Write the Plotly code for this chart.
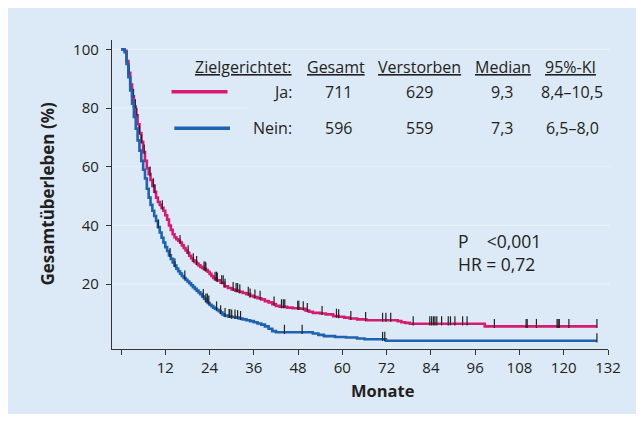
import numpy as np
import plotly.graph_objects as go

# ---------------- data ----------------
ja_months = [0, 1, 1.5, 2, 2.5, 3, 3.5, 4, 4.5, 5, 5.5, 6, 6.5, 7, 7.5, 8, 8.5, 9, 9.5, 10,
             10.5, 11, 11.5, 12, 12.5, 13, 13.5, 14, 14.5, 15, 15.5, 16, 16.5, 17, 17.5, 18,
             18.5, 19, 19.5, 20, 20.5, 21, 21.5, 22, 22.5, 23, 23.5, 24, 24.5, 25, 25.5, 26,
             27, 28, 29, 30, 31, 32, 33, 34, 35, 36, 37, 38, 39, 40, 41, 42, 43, 45, 46.5,
             48.5, 50, 51, 52, 54, 55.5, 57.5, 59, 60.5, 62, 64, 66.5, 75, 76, 77, 78.3,
             98.6, 129]
ja_surv = [100, 99.5, 96, 92, 88, 84, 80.5, 77.5, 74.5, 71.5, 68.5, 65, 62, 59.5, 57.5, 55.5,
           53.5, 51.5, 49.5, 48, 47, 46, 45, 43.5, 42, 40, 38.5, 37, 36, 35.3, 34.8, 34.2,
           33.2, 32.3, 31.5, 30.7, 29.7, 28.8, 28, 27.5, 27, 26.4, 25.9, 25.5, 25.2, 24.8,
           24.2, 23.5, 22.8, 22.1, 21.7, 21.3, 20.5, 19.3, 18.7, 18.2, 17.8, 17.4, 17,
           16.6, 16, 15.6, 15.2, 14.8, 14.2, 13.8, 13.2, 12.6, 12.3, 12, 11.8, 11.6, 11,
           10.6, 10.2, 10, 9.7, 9.1, 8.9, 8.6, 8.3, 8, 7.7, 7.4, 7.0, 6.8, 6.5,
           5.6, 5.6]
ja_censored = [2.2, 2.6, 3.0, 3.4, 3.9, 4.3, 5.0, 5.6, 6.3, 7.9, 8.8, 9.2, 11.2, 16, 18.2,
               19.6, 20.5, 22.5, 22.8, 23, 25.5, 25.9, 26.1, 27.3, 27.7, 28.2, 30.4, 31.2,
               31.6, 32.2, 34.5, 35, 36.3, 37.7, 41.5, 43.5, 44, 44.4, 47.9, 48.2, 49.4,
               50.5, 54.5, 58.4, 59, 62.3, 66.3, 70.9, 71.8, 73.1, 79.2, 83.7, 84.2, 84.7,
               85.1, 85.6, 86.9, 88.7, 89.3, 90.5, 92.6, 93.8, 101.2, 109.8, 110.1, 112.6,
               118.2, 118.5, 118.8, 121.4, 129]

nein_months = [0, 1, 1.5, 2, 2.5, 3, 3.5, 4, 4.5, 5, 5.5, 6, 6.5, 7, 7.5, 8, 8.5, 9, 9.5,
               10, 10.5, 11, 11.5, 12, 12.5, 13, 13.5, 14, 14.5, 15, 15.5, 16, 16.5, 17,
               17.5, 18, 18.5, 19, 19.5, 20, 20.5, 21, 21.5, 22, 22.5, 23, 23.5, 24, 24.5,
               25, 25.5, 26, 26.5, 27, 27.5, 28, 29, 30, 31, 32, 33, 34, 35, 36, 37, 38, 39,
               40, 41, 42, 52, 53.5, 55, 58, 61, 64, 66, 71.8, 129]
nein_surv = [100, 99, 95, 90.5, 86, 81.5, 77, 73, 69, 65.5, 62, 59, 56, 52.5, 49.5, 47, 45,
             43.2, 41.5, 39.5, 37.6, 35.8, 34.2, 32.6, 31.3, 29.8, 28.6, 27.4, 26.3, 25.3,
             24.4, 23.6, 22.8, 22.1, 21.5, 20.9, 20.3, 19.6, 19, 18.4, 17.8, 17.2, 16.6,
             15.8, 15, 14.3, 13.6, 13, 12.5, 12, 11.6, 11.2, 10.8, 10.3, 9.7, 9.3, 9.0,
             8.8, 8.6, 8.3, 8.0, 7.7, 7.4, 7.0, 6.6, 6.2, 5.6, 4.8, 4.0, 3.6, 3.2, 2.7,
             2.3, 2.0, 1.8, 1.5, 1.2, 0.7, 0.7]
nein_censored = [10.1, 13.3, 14.6, 17.3, 22.3, 23, 23.4, 23.8, 25.9, 27, 28.2, 29.3, 29.5,
                 30, 30.9, 31.6, 32.4, 44.3, 49.1, 70.9, 71.5, 129]

x_tick_vals = [0, 12, 24, 36, 48, 60, 72, 84, 96, 108, 120, 132]
x_tick_text = ["", "12", "24", "36", "48", "60", "72", "84", "96", "108", "120", "132"]
y_tick_vals = [20, 40, 60, 80, 100]

table_header = ["Zielgerichtet:", "Gesamt", "Verstorben", "Median", "95%-KI"]
table_ja = ["Ja:", "711", "629", "9,3", "8,4–10,5"]
table_nein = ["Nein:", "596", "559", "7,3", "6,5–8,0"]
stats_text = "P\u00a0\u00a0\u00a0 &lt;0,001<br>HR = 0,72"

# ---------------- styling ----------------
PINK = "#d91a72"
BLUE = "#1c63b2"
PANEL = "#dce9f6"
GRID = "#e9f1fa"
TXT = "#231f20"
FONT = "Open Sans"

# the page body keeps its default 8px margin (white frame at left/top)
W, H = 636, 406
L, R, T, B = 104, 600, 32, 341  # plot area in figure pixels
XR = [-2.44, 132]
YR = [-2.1, 103.2]


def px(xp):
    return (xp - L) / (R - L)


def py(yp):
    return (B - yp) / (B - T)


def step_value(times, surv, t):
    i = np.searchsorted(np.asarray(times), t, side="right") - 1
    return np.asarray(surv)[i]


fig = go.Figure()

for months, surv, cens, col, name in [
    (ja_months, ja_surv, ja_censored, PINK, "Ja"),
    (nein_months, nein_surv, nein_censored, BLUE, "Nein"),
]:
    fig.add_trace(go.Scatter(x=months, y=surv, mode="lines", line=dict(color=col, width=2.6, shape="hv"),
                             name=name, showlegend=False, hoverinfo="skip"))
    cy = np.array([step_value(months, surv, t) for t in cens]) + 1.0
    fig.add_trace(go.Scatter(x=cens, y=cy, mode="markers",
                             marker=dict(symbol="line-ns", size=6.5, line=dict(color="#222222", width=1.2)),
                             showlegend=False, hoverinfo="skip"))

shapes = []
# gridlines (the legend box hides the 80 line on its right part)
legend_left, legend_top, legend_bottom = 239, 47, 132
for g in y_tick_vals:
    gy = B - (g - YR[0]) / (YR[1] - YR[0]) * (B - T)
    x_end = legend_left if legend_top < gy < legend_bottom else 602
    shapes.append(dict(type="line", xref="paper", yref="y", x0=0, x1=px(x_end), y0=g, y1=g,
                       line=dict(color=GRID, width=1.2), layer="below"))
# legend line samples
shapes.append(dict(type="line", xref="paper", yref="paper", x0=px(163.5), x1=px(219.5), y0=py(83.7), y1=py(83.7),
                   line=dict(color=PINK, width=3.5)))
shapes.append(dict(type="line", xref="paper", yref="paper", x0=px(166.3), x1=px(222), y0=py(120.3), y1=py(120.3),
                   line=dict(color=BLUE, width=3.5)))

ann = []
fs = 16
col_x = [286, 327.5, 411.5, 495, 562.5]
col_anchor = ["right", "center", "center", "center", "center"]
for i, t in enumerate(table_header):
    ann.append(dict(text="<u>" + t + "</u>", x=px(col_x[i]), y=py(58.7), xanchor=col_anchor[i]))
row_x = [286, 330, 411, 494, 564]
for vals, yy in [(table_ja, 83.7), (table_nein, 120.3)]:
    for i, t in enumerate(vals):
        ann.append(dict(text=t, x=px(row_x[i]), y=py(yy), xanchor=col_anchor[i]))
ann.append(dict(text=stats_text, x=px(448), y=py(244.7), xanchor="left", align="left",
                font=dict(size=17.5, color=TXT, family=FONT)))
# axis titles
ann.append(dict(text="<b>Monate</b>", x=px(375), y=py(382), xanchor="center",
                font=dict(size=16.5, color=TXT, family=FONT)))
ann.append(dict(text="<b>Gesamtüberleben (%)</b>", x=px(39), y=py(185.5), xanchor="center", textangle=-90,
                font=dict(size=17, color=TXT, family=FONT)))
for a in ann:
    a.setdefault("font", dict(size=fs, color=TXT, family=FONT))
    a.update(xref="paper", yref="paper", yanchor="middle", showarrow=False)

fig.update_layout(
    width=W, height=H,
    margin=dict(l=L, r=W - R, t=T, b=H - B),
    paper_bgcolor=PANEL, plot_bgcolor=PANEL,
    shapes=shapes, annotations=ann,
    font=dict(family=FONT, color=TXT, size=15),
    showlegend=False,
)
fig.update_xaxes(range=XR, tickvals=x_tick_vals, ticktext=x_tick_text,
                 showgrid=False, zeroline=False, showline=True, linecolor="#333333", linewidth=1.3,
                 ticks="outside", ticklen=5, tickwidth=1.2, tickcolor="#333333",
                 tickfont=dict(size=15, color=TXT, family=FONT))
fig.update_yaxes(range=YR, tickvals=y_tick_vals,
                 showgrid=False, zeroline=False, showline=True, linecolor="#333333", linewidth=1.3,
                 ticks="outside", ticklen=5, tickwidth=1.2, tickcolor="#333333", ticklabelstandoff=4,
                 tickfont=dict(size=15, color=TXT, family=FONT))

fig.write_html("out.html")
